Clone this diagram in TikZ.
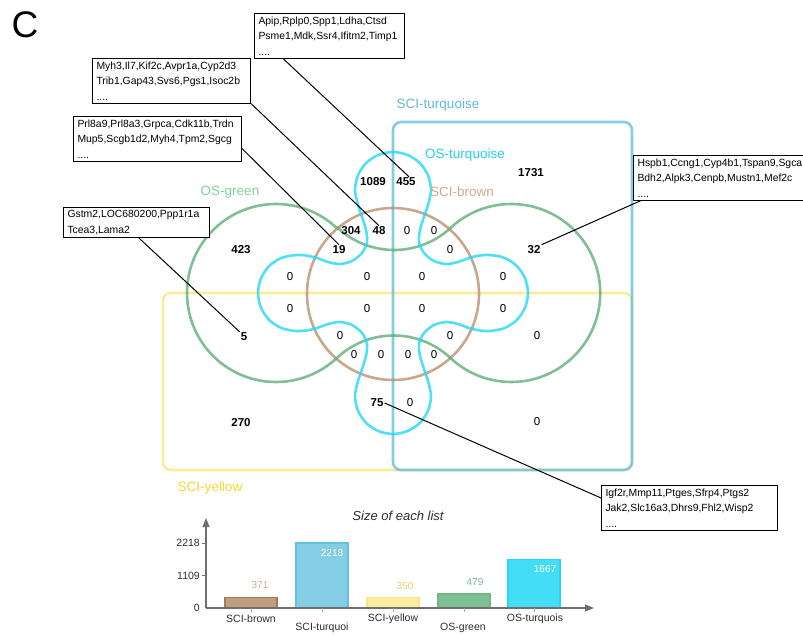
\documentclass[tikz,border=0pt]{standalone}
\usepackage{fontspec}
\setmainfont{Liberation Sans}
\usetikzlibrary{calc,arrows.meta}
\definecolor{sciturq}{RGB}{100,192,222}
\definecolor{osturq}{RGB}{35,215,245}
\definecolor{scibrown}{RGB}{188,145,112}
\definecolor{osgreen}{RGB}{95,175,120}
\definecolor{sciyellow}{RGB}{250,230,130}
\definecolor{sciturqlab}{RGB}{95,185,220}
\definecolor{osturqlab}{RGB}{40,205,240}
\definecolor{scibrownlab}{RGB}{205,170,145}
\definecolor{osgreenlab}{RGB}{135,205,155}
\definecolor{sciyellowlab}{RGB}{238,218,50}
\definecolor{axisgray}{RGB}{110,110,110}
\definecolor{txtgray}{RGB}{45,45,45}
\begin{document}
\begin{tikzpicture}[x=1pt,y=-1pt,
  vline/.style={line width=2.6pt, draw opacity=0.8},
  num/.style={inner sep=1pt, font=\fontsize{11.5}{12}\selectfont},
  bnum/.style={inner sep=1pt, font=\fontsize{11.5}{12}\selectfont\bfseries},
  genebox/.style={draw, line width=1pt, anchor=north west, align=left, inner xsep=4pt, inner ysep=3pt, font=\fontsize{10.4}{15.5}\selectfont, fill=white},
  setlabel/.style={inner sep=0pt, font=\fontsize{13.5}{14}\selectfont},
  conn/.style={line width=1pt},
  axislab/.style={inner sep=1pt, font=\fontsize{10.5}{11}\selectfont, text=txtgray},
  barval/.style={inner sep=1pt, font=\fontsize{10}{10}\selectfont},
  bar/.style={line width=1.2pt}
]
\useasboundingbox (0,0) rectangle (803,636);
\clip (0,0) rectangle (803,636);

% panel letter
\node[font=\fontsize{37}{37}\selectfont] (panel) at (25,25) {C};

% ---------- Venn shapes ----------
\draw[vline, sciyellow, rounded corners=8pt] (163,293) rectangle (632,470);
\draw[vline, sciturq, rounded corners=8pt] (393,122) rectangle (632,470);
\draw[vline, scibrown] (393,294) circle[radius=86];
\draw[vline, osgreen] (336.6,227.8)
  arc[start angle=-47.1, end angle=-312.9, radius=89]
  arc[start angle=-133.4, end angle=-46.6, radius=83]
  arc[start angle=132.9, end angle=-132.9, radius=89]
  arc[start angle=47.1, end angle=132.9, radius=83] -- cycle;
\draw[vline, osturq] plot[smooth cycle, tension=0.5] coordinates {
  (393,152) (378.5,154.9) (366.1,163.1) (357.9,175.5) (355,190) (357.9,204.5)
  (362,217) (366,230) (367,242) (362,253) (352,261) (340,264) (328,262) (317,258)
  (306,255.5) (296,255) (281.5,257.9) (269.1,266.1) (260.9,278.5) (258,293)
  (260.9,307.5) (269.1,319.9) (281.5,328.1) (296,331) (306,330.5) (317,328)
  (328,324) (340,322) (352,325) (362,333) (367,344) (366,356) (362,369)
  (357.9,381.5) (355,396) (357.9,410.5) (366.1,422.9) (378.5,431.1) (393,434)
  (407.5,431.1) (419.9,422.9) (428.1,410.5) (431,396) (428.1,381.5) (424,369)
  (420,356) (419,344) (424,333) (434,325) (446,322) (458,324) (469,328)
  (480,330.5) (490,331) (504.5,328.1) (516.9,319.9) (525.1,307.5) (528,293)
  (525.1,278.5) (516.9,266.1) (504.5,257.9) (490,255) (480,255.5) (469,258)
  (458,262) (446,264) (434,261) (424,253) (419,242) (420,230) (424,217)
  (428.1,204.5) (431,190) (428.1,175.5) (419.9,163.1) (407.5,154.9)};

% ---------- set labels ----------
\node[setlabel, text=sciturqlab] (lsciturq) at (438,105) {SCI-turquoise};
\node[setlabel, text=osturqlab] (losturq) at (465,155) {OS-turquoise};
\node[setlabel, text=scibrownlab] (lscibrown) at (462,192) {SCI-brown};
\node[setlabel, text=osgreenlab] (losgreen) at (230,192) {OS-green};
\node[setlabel, text=sciyellowlab] (lsciyellow) at (210,488) {SCI-yellow};

% ---------- region counts ----------
\node[bnum] (n1089) at (373,182) {1089};
\node[bnum] (n455) at (406,182) {455};
\node[bnum] (n1731) at (531,173) {1731};
\node[bnum] (n304) at (351,231) {304};
\node[bnum] (n48) at (379,231) {48};
\node[num] (z1) at (407,231) {0};
\node[num] (z2) at (434,231) {0};
\node[bnum] (n19) at (339,250) {19};
\node[num] (z3) at (450,250) {0};
\node[bnum] (n423) at (241,250) {423};
\node[bnum] (n32) at (534,250) {32};
\node[num] (z4) at (290,277) {0};
\node[num] (z5) at (367,277) {0};
\node[num] (z6) at (422,277) {0};
\node[num] (z7) at (503,277) {0};
\node[num] (z8) at (290,309) {0};
\node[num] (z9) at (367,309) {0};
\node[num] (z10) at (422,309) {0};
\node[num] (z11) at (503,309) {0};
\node[bnum] (n5) at (244,337) {5};
\node[num] (z12) at (340,336) {0};
\node[num] (z13) at (450,336) {0};
\node[num] (z14) at (537,336) {0};
\node[num] (z15) at (354,355) {0};
\node[num] (z16) at (381,355) {0};
\node[num] (z17) at (408,355) {0};
\node[num] (z18) at (434,355) {0};
\node[bnum] (n75) at (377,403) {75};
\node[num] (z19) at (410,403) {0};
\node[bnum] (n270) at (241,423) {270};
\node[num] (z20) at (537,422) {0};

% ---------- gene boxes ----------
\node[genebox, text width=142pt] (b1) at (254,13) {Apip,Rplp0,Spp1,Ldha,Ctsd\\Psme1,Mdk,Ssr4,Ifitm2,Timp1\\....};
\node[genebox, text width=150pt] (b2) at (92,58) {Myh3,Il7,Kif2c,Avpr1a,Cyp2d3\\Trib1,Gap43,Svs6,Pgs1,Isoc2b\\....};
\node[genebox, text width=160pt] (b3) at (73,116) {Prl8a9,Prl8a3,Grpca,Cdk11b,Trdn\\Mup5,Scgb1d2,Myh4,Tpm2,Sgcg\\....};
\node[genebox, text width=138pt] (b4) at (63,207) {Gstm2,LOC680200,Ppp1r1a\\Tcea3,Lama2};
\node[genebox, text width=200pt] (b5) at (633,155) {Hspb1,Ccng1,Cyp4b1,Tspan9,Sgca\\Bdh2,Alpk3,Cenpb,Mustn1,Mef2c\\....};
\node[genebox, text width=168pt] (b6) at (601,485) {Igf2r,Mmp11,Ptges,Sfrp4,Ptgs2\\Jak2,Slc16a3,Dhrs9,Fhl2,Wisp2\\....};

% ---------- connectors ----------
\draw[conn] ([xshift=29pt]b1.south west) -- (n455.60);
\draw[conn] (b2.south east) -- (n48.north);
\draw[conn] ([yshift=13pt]b3.south east) -- (n19.north);
\draw[conn] ([xshift=76pt]b4.south west) -- (n5.north west);
\draw[conn] ([xshift=8pt]b5.south west) -- (n32.north east);
\draw[conn] ([yshift=-13pt]b6.north west) -- (n75.east);

% ---------- bar chart ----------
\node[inner sep=1pt, font=\fontsize{13}{13}\selectfont\itshape, text=txtgray] (title) at (398,516) {Size of each list};
\draw[bar, draw=scibrown!85!black, fill=scibrown!90] (225,608) rectangle (277,597.1);
\draw[bar, draw=sciturq, fill=sciturq!80] (296,608) rectangle (348,543);
\draw[bar, draw=sciyellow, fill=sciyellow!75] (367,608) rectangle (419,597.7);
\draw[bar, draw=osgreen!90, fill=osgreen!80] (438,608) rectangle (490,594);
\draw[bar, draw=osturq, fill=osturq!85] (508,608) rectangle (560,559.2);
\node[barval, text=scibrownlab] (v1) at (260,585) {371};
\node[barval, text=white] (v2) at (332,553) {2218};
\node[barval, text=sciyellow!90!black] (v3) at (405,586) {350};
\node[barval, text=osgreenlab!90!black] (v4) at (475,582) {479};
\node[barval, text=white] (v5) at (545,569) {1667};
\draw[line width=1.1pt, axisgray, -{Triangle[length=9pt,width=7pt]}] (206,608) -- (206,518);
\draw[line width=1.1pt, axisgray, -{Triangle[length=9pt,width=7pt]}] (206,608) -- (594,608);
\foreach \yy in {543,575.5} \draw[axisgray, line width=0.8pt] (202,\yy) -- (206,\yy);
\foreach \xx in {251,322,393,464,534} \draw[axisgray!60, line width=0.8pt] (\xx,608) -- (\xx,612);
\node[axislab, anchor=east] (t1) at (201,543) {2218};
\node[axislab, anchor=east] (t2) at (201,575.5) {1109};
\node[axislab, anchor=east] (t3) at (201,608) {0};
\node[axislab] (c1) at (251,619) {SCI-brown};
\node[axislab] (c2) at (322,628) {SCI-turquoi};
\node[axislab] (c3) at (393,619) {SCI-yellow};
\node[axislab] (c4) at (463,628) {OS-green};
\node[axislab] (c5) at (535,619) {OS-turquois};
\end{tikzpicture}
\end{document}
